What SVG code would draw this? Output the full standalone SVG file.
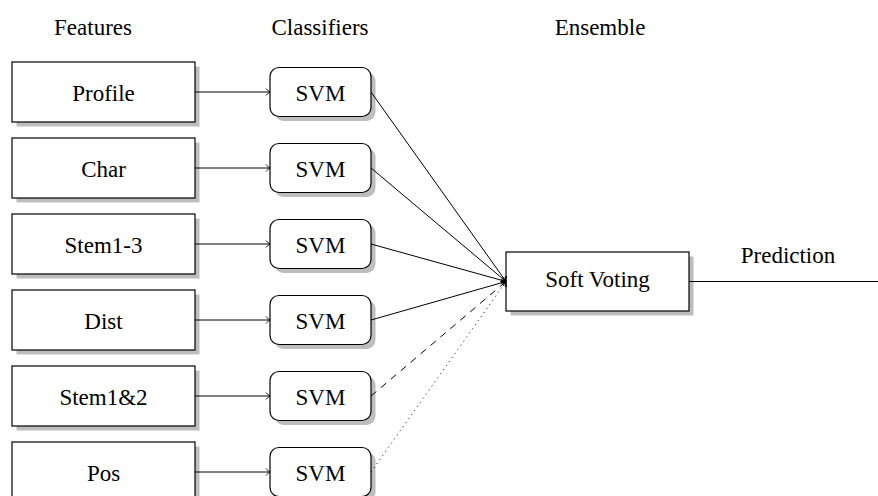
<svg xmlns="http://www.w3.org/2000/svg" width="878" height="496" viewBox="0 0 878 496">
<style>
text{font-family:"Liberation Serif","Times New Roman",serif;font-size:23px;fill:#000;text-anchor:middle}
.box{fill:#fff;stroke:#000;stroke-width:1.2}
.sh{fill:#bdbdbd;stroke:none}
.c{stroke:#000;stroke-width:1;fill:none}
</style>
<defs>
<marker id="ar" markerWidth="8" markerHeight="10" refX="6" refY="5" orient="auto" markerUnits="userSpaceOnUse">
<path d="M2,1.5 Q4.5,4.3 6,5 Q4.5,5.7 2,8.5" fill="none" stroke="#000" stroke-width="0.9"/>
</marker>
</defs>
<g id="headers">
<text x="93" y="35">Features</text>
<text x="320" y="35">Classifiers</text>
<text x="600" y="35">Ensemble</text>
</g>
<g id="f1"><rect class="sh" x="16.5" y="66.5" width="183" height="60"/><rect class="box" x="12" y="62" width="183" height="60"/><text x="103.5" y="100.5">Profile</text></g>
<g id="f2"><rect class="sh" x="16.5" y="142.5" width="183" height="60"/><rect class="box" x="12" y="138" width="183" height="60"/><text x="103.5" y="176.5">Char</text></g>
<g id="f3"><rect class="sh" x="16.5" y="218.5" width="183" height="60"/><rect class="box" x="12" y="214" width="183" height="60"/><text x="103.5" y="252.5">Stem1-3</text></g>
<g id="f4"><rect class="sh" x="16.5" y="294.5" width="183" height="60"/><rect class="box" x="12" y="290" width="183" height="60"/><text x="103.5" y="328.5">Dist</text></g>
<g id="f5"><rect class="sh" x="16.5" y="370.5" width="183" height="60"/><rect class="box" x="12" y="366" width="183" height="60"/><text x="103.5" y="404.5">Stem1&amp;2</text></g>
<g id="f6"><rect class="sh" x="16.5" y="446.5" width="183" height="60"/><rect class="box" x="12" y="442" width="183" height="60"/><text x="103.5" y="480.5">Pos</text></g>
<g id="s1"><rect class="sh" x="274.5" y="72" width="101" height="49" rx="9"/><rect class="box" x="270" y="67.5" width="101" height="49" rx="9"/><text x="320.5" y="100.5">SVM</text></g>
<g id="s2"><rect class="sh" x="274.5" y="148" width="101" height="49" rx="9"/><rect class="box" x="270" y="143.5" width="101" height="49" rx="9"/><text x="320.5" y="176.5">SVM</text></g>
<g id="s3"><rect class="sh" x="274.5" y="224" width="101" height="49" rx="9"/><rect class="box" x="270" y="219.5" width="101" height="49" rx="9"/><text x="320.5" y="252.5">SVM</text></g>
<g id="s4"><rect class="sh" x="274.5" y="300" width="101" height="49" rx="9"/><rect class="box" x="270" y="295.5" width="101" height="49" rx="9"/><text x="320.5" y="328.5">SVM</text></g>
<g id="s5"><rect class="sh" x="274.5" y="376" width="101" height="49" rx="9"/><rect class="box" x="270" y="371.5" width="101" height="49" rx="9"/><text x="320.5" y="404.5">SVM</text></g>
<g id="s6"><rect class="sh" x="274.5" y="452" width="101" height="49" rx="9"/><rect class="box" x="270" y="447.5" width="101" height="49" rx="9"/><text x="320.5" y="480.5">SVM</text></g>
<g id="ensemble"><rect class="sh" x="510.5" y="256.5" width="183" height="59"/><rect class="box" x="506" y="252" width="183" height="59"/><text x="597.5" y="287">Soft Voting</text></g>
<g id="connectors">
<line class="c" x1="195" y1="92" x2="270" y2="92" marker-end="url(#ar)"/>
<line class="c" x1="195" y1="168" x2="270" y2="168" marker-end="url(#ar)"/>
<line class="c" x1="195" y1="244" x2="270" y2="244" marker-end="url(#ar)"/>
<line class="c" x1="195" y1="320" x2="270" y2="320" marker-end="url(#ar)"/>
<line class="c" x1="195" y1="396" x2="270" y2="396" marker-end="url(#ar)"/>
<line class="c" x1="195" y1="472" x2="270" y2="472" marker-end="url(#ar)"/>
<line class="c" x1="371" y1="92" x2="506" y2="281.5" marker-end="url(#ar)"/>
<line class="c" x1="371" y1="168" x2="506" y2="281.5" marker-end="url(#ar)"/>
<line class="c" x1="371" y1="244" x2="506" y2="281.5" marker-end="url(#ar)"/>
<line class="c" x1="371" y1="320" x2="506" y2="281.5" marker-end="url(#ar)"/>
<line class="c" x1="371" y1="396" x2="506" y2="281.5" stroke-dasharray="7 6" marker-end="url(#ar)"/>
<line class="c" x1="371" y1="472" x2="506" y2="281.5" stroke-dasharray="1 4" marker-end="url(#ar)"/>
<line class="c" x1="689" y1="281.5" x2="878" y2="281.5"/>
<text x="788" y="263">Prediction</text>
</g>
</svg>
